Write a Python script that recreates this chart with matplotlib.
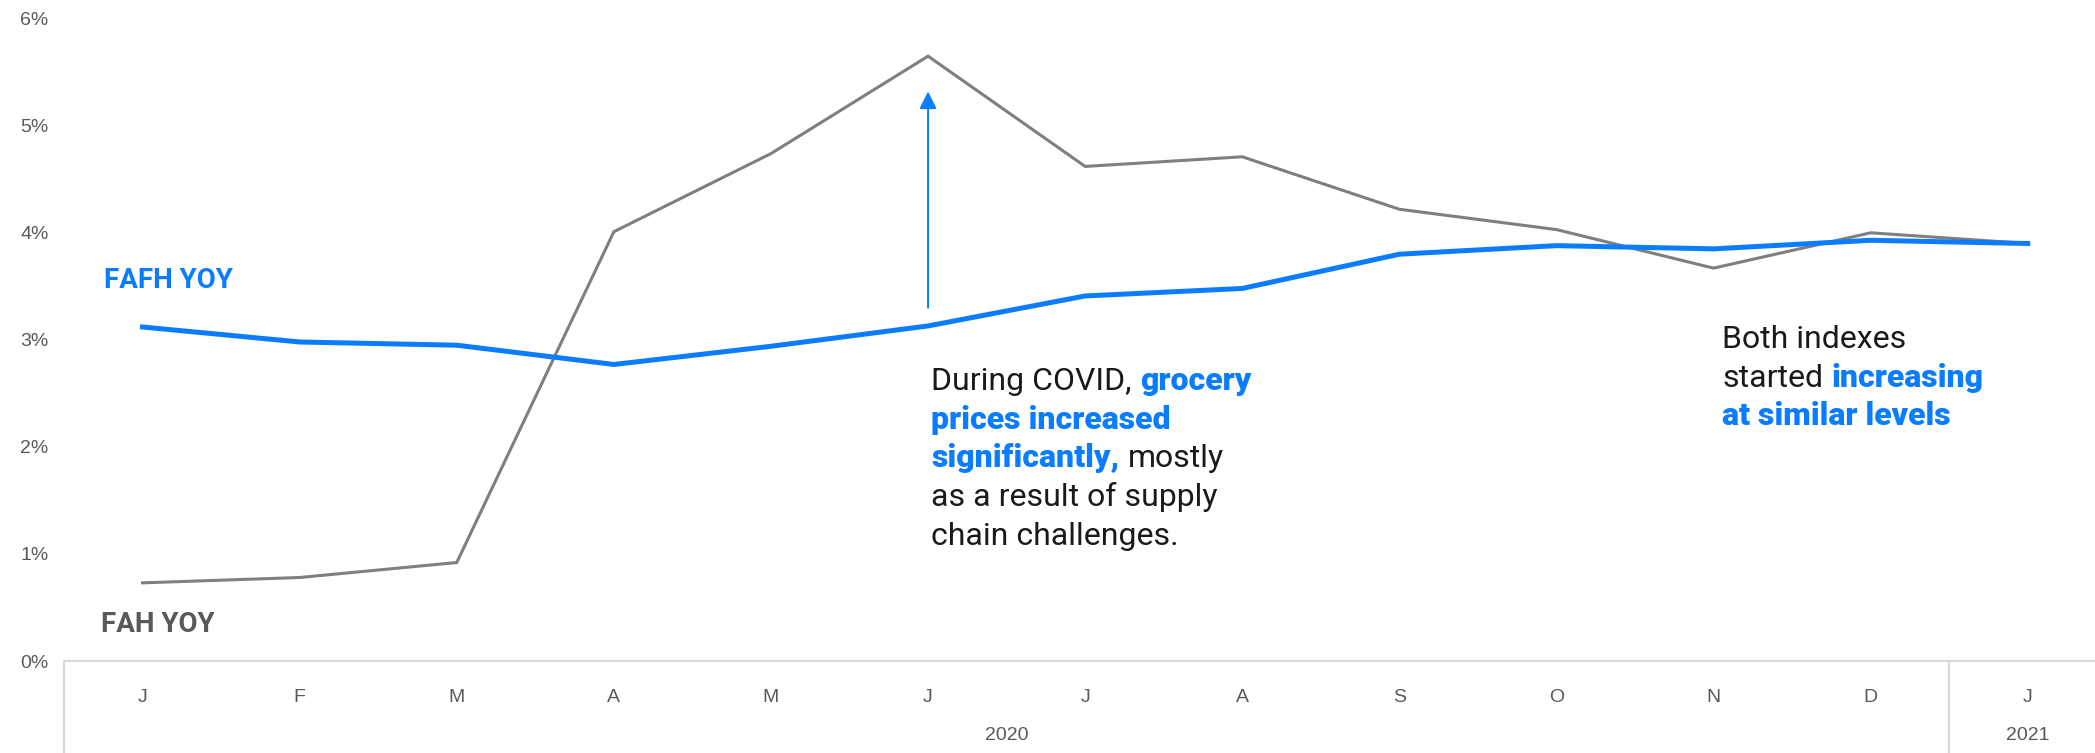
import matplotlib
matplotlib.use("agg")
import matplotlib.pyplot as plt
import matplotlib.transforms as mtransforms

# monthly year-over-year change, Jan 2020 .. Jan 2021 (%)
months = ["J", "F", "M", "A", "M", "J", "J", "A", "S", "O", "N", "D", "J"]
years = ["2020", "2021"]
year_span = [12, 1]
fafh_yoy = [3.12, 2.98, 2.95, 2.77, 2.94, 3.13, 3.41, 3.48, 3.80, 3.88, 3.85, 3.93, 3.90]
fah_yoy = [0.73, 0.78, 0.92, 4.01, 4.74, 5.65, 4.62, 4.71, 4.22, 4.03, 3.67, 4.00, 3.90]
arrow_from, arrow_to = 3.30, 5.32
yticks = [0, 1, 2, 3, 4, 5, 6]

BLUE = "#0a7cff"
GREY = "#7f7f7f"
DARK = "#595959"
INK = "#1a1a1a"
AXIS = "#d9d9d9"

W, H = 2095, 753
fig = plt.figure(figsize=(W / 100, H / 100), dpi=100)
# plot area placed in pixels; the last category runs off the right edge
left, bottom, top = 64, 92, 18.7
band = 157.1
ax = fig.add_axes([left / W, bottom / H, len(months) * band / W, (H - bottom - top) / H])

x = list(range(len(months)))
ax.plot(x, fah_yoy, color=GREY, lw=2.2, solid_joinstyle="miter", zorder=2)
ax.plot(x, fafh_yoy, color=BLUE, lw=3.6, solid_joinstyle="round", zorder=3)

ax.set_xlim(-0.5, len(months) - 0.5)
ax.set_ylim(0, 6)
for s in ["top", "right", "left"]:
    ax.spines[s].set_visible(False)
ax.spines["bottom"].set_color(AXIS)
ax.spines["bottom"].set_linewidth(1.5)

ax.set_yticks(yticks)
ax.set_yticklabels([f"{v}%" for v in yticks])
ax.set_xticks(x)
ax.set_xticklabels(months)
tick_font = ["Liberation Sans Narrow", "Liberation Sans", "DejaVu Sans"]
ax.tick_params(axis="y", length=0, pad=11, labelsize=14, labelcolor=DARK)
ax.tick_params(axis="x", length=0, pad=20, labelsize=14, labelcolor=DARK)
for lab in ax.get_xticklabels() + ax.get_yticklabels():
    lab.set_family(tick_font)

# year groups under the month labels, with separators
blend = mtransforms.blended_transform_factory(ax.transData, ax.transAxes)
ax_h = H - bottom - top
below = -bottom / ax_h
start = -0.5
for yr, n in zip(years, year_span):
    ax.plot([start, start], [0, below], transform=blend, color=AXIS, lw=1.5, clip_on=False)
    ax.text(start + n / 2, -(736 - (H - bottom)) / ax_h, yr, transform=blend,
            ha="center", va="center", fontsize=14, color=DARK, family=tick_font)
    start += n

# arrow over the June spike
ax.annotate("", xy=(5, arrow_to), xytext=(5, arrow_from),
            arrowprops=dict(arrowstyle="-|>", color=BLUE, lw=1.4,
                            mutation_scale=26, shrinkA=0, shrinkB=0))

# series labels
lab_font = ["Liberation Sans Narrow", "Roboto", "DejaVu Sans"]
fig.text(104 / W, 1 - 281 / H, "FAFH YOY", color=BLUE, fontsize=20, weight="bold",
         family=lab_font, ha="left", va="center")
fig.text(101 / W, 1 - 624 / H, "FAH YOY", color=DARK, fontsize=20, weight="bold",
         family=lab_font, ha="left", va="center")

note_font = ["Roboto", "DejaVu Sans"]
NOTE_SIZE = 23
LINE = 38.7


def rich_line(px, py, parts):
    """Draw one line of text made of (string, colour, weight) runs."""
    prev = None
    for s, c, w in parts:
        kw = dict(color=c, weight=w, fontsize=NOTE_SIZE, family=note_font,
                  ha="left", va="baseline")
        if prev is None:
            prev = fig.text(px / W, 1 - py / H, s, **kw)
        else:
            prev = ax.annotate(s, xy=(1, 0), xycoords=prev, xytext=(6, 0),
                               textcoords="offset points", annotation_clip=False,
                               **{**kw, "va": "bottom"})


covid = [
    [("During COVID,", INK, "normal"), ("grocery", BLUE, "heavy")],
    [("prices increased", BLUE, "heavy")],
    [("significantly,", BLUE, "heavy"), ("mostly", INK, "normal")],
    [("as a result of supply", INK, "normal")],
    [("chain challenges.", INK, "normal")],
]
for i, parts in enumerate(covid):
    rich_line(931, 390 + i * LINE, parts)

both = [
    [("Both indexes", INK, "normal")],
    [("started", INK, "normal"), ("increasing", BLUE, "heavy")],
    [("at similar levels", BLUE, "heavy")],
]
for i, parts in enumerate(both):
    rich_line(1722, 348 + i * LINE, parts)

fig.savefig("out.png", dpi=100, facecolor="white")
